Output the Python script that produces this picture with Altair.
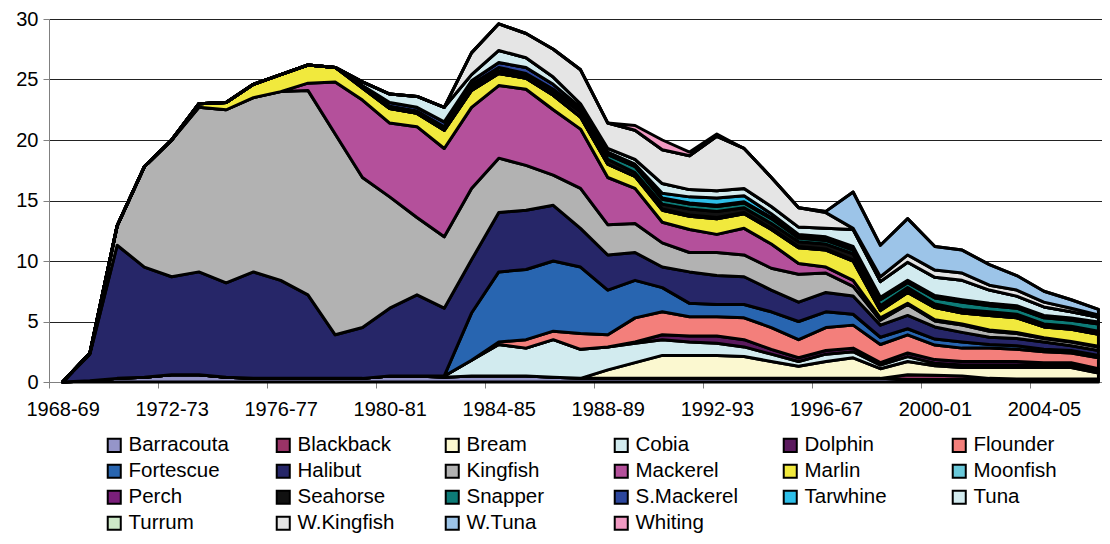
import altair as alt
import pandas as pd
import json

years = [1968, 1969, 1970, 1971, 1972, 1973, 1974, 1975, 1976, 1977,
         1978, 1979, 1980, 1981, 1982, 1983, 1984, 1985, 1986, 1987,
         1988, 1989, 1990, 1991, 1992, 1993, 1994, 1995, 1996, 1997,
         1998, 1999, 2000, 2001, 2002, 2003, 2004, 2005, 2006]

tick_years = [1968, 1972, 1976, 1980, 1984, 1988, 1992, 1996, 2000, 2004]
tick_labels = ["1968-69", "1972-73", "1976-77", "1980-81", "1984-85",
               "1988-89", "1992-93", "1996-67", "2000-01", "2004-05"]

species = ["Barracouta", "Blackback", "Bream", "Cobia", "Dolphin", "Flounder",
           "Fortescue", "Halibut", "Kingfish", "Mackerel", "Marlin", "Moonfish",
           "Perch", "Seahorse", "Snapper", "S.Mackerel", "Tarwhine", "Tuna",
           "Turrum", "W.Kingfish", "W.Tuna", "Whiting"]

colors = ["#9595c9", "#993366", "#fbf8d0", "#d2ebef", "#5b1a5e", "#f37f7b",
          "#2865b0", "#262668", "#b2b2b2", "#b4509b", "#f1e93d", "#6ac9da",
          "#7b1f7b", "#111111", "#0d7b77", "#2d479e", "#2ebfe9", "#d2ebef",
          "#cde9c8", "#e5e5e5", "#9cc4e8", "#f19ac3"]

barracouta = [0, 0.1, 0.3, 0.4, 0.6, 0.6, 0.4, 0.3, 0.3, 0.3, 0.3, 0.3, 0.5, 0.5, 0.4, 0.5, 0.5, 0.5, 0.4, 0.3,
              0.3, 0.3, 0.3, 0.3, 0.3, 0.3, 0.3, 0.3, 0.3, 0.3, 0.3, 0.2, 0.2, 0.2, 0.2, 0.2, 0.2, 0.2, 0.2]
blackback = [0, 0, 0, 0, 0, 0, 0, 0, 0, 0, 0, 0, 0, 0, 0, 0, 0, 0, 0, 0,
             0, 0, 0, 0, 0, 0, 0, 0, 0, 0, 0, 0.4, 0.35, 0.3, 0.1, 0.05, 0.05, 0.05, 0.05]
bream = [0, 0, 0, 0, 0, 0, 0, 0, 0, 0, 0, 0, 0, 0, 0, 0, 0, 0, 0, 0,
         0.7, 1.3, 1.9, 1.9, 1.9, 1.8, 1.4, 1.0, 1.4, 1.7, 0.8, 1.1, 0.8, 0.7, 0.9, 0.95, 0.95, 0.95, 0.5]
cobia = [0, 0, 0, 0, 0, 0, 0, 0, 0, 0, 0, 0, 0, 0, 0.1, 1.3, 2.6, 2.3, 3.1, 2.4,
         1.9, 1.6, 1.3, 1.1, 1.0, 0.8, 0.6, 0.4, 0.6, 0.5, 0.3, 0.4, 0.2, 0.2, 0.2, 0.2, 0.2, 0.2, 0.15]
dolphin = [0, 0, 0, 0, 0, 0, 0, 0, 0, 0, 0, 0, 0, 0, 0, 0, 0, 0, 0, 0,
           0, 0.1, 0.4, 0.5, 0.6, 0.6, 0.4, 0.3, 0.3, 0.3, 0.2, 0.3, 0.3, 0.3, 0.3, 0.3, 0.2, 0.2, 0.2]
flounder = [0, 0, 0, 0, 0, 0, 0, 0, 0, 0, 0, 0, 0, 0, 0, 0, 0.2, 0.7, 0.7, 1.3,
            1.0, 2.0, 1.9, 1.6, 1.6, 1.8, 1.8, 1.5, 1.9, 1.9, 1.5, 1.5, 1.2, 1.1, 1.1, 1.0, 0.9, 0.8, 0.9]
fortescue = [0, 0, 0, 0, 0, 0, 0, 0, 0, 0, 0, 0, 0, 0, 0, 3.9, 5.8, 5.8, 5.8, 5.5,
             3.7, 3.1, 2.0, 1.1, 1.0, 1.1, 1.3, 1.5, 1.3, 0.9, 0.6, 0.5, 0.5, 0.5, 0.3, 0.3, 0.2, 0.2, 0.2]
halibut = [0, 2.2, 11.0, 9.1, 8.1, 8.5, 7.8, 8.8, 8.1, 6.9, 3.6, 4.2, 5.6, 6.7, 5.6, 4.4, 4.9, 4.9, 4.6, 3.2,
           2.9, 2.3, 1.7, 2.6, 2.4, 2.3, 1.8, 1.6, 1.6, 1.5, 1.0, 1.1, 1.0, 0.8, 0.6, 0.6, 0.6, 0.4, 0.4]
kingfish = [0, 0.1, 1.6, 8.3, 11.3, 13.6, 14.3, 14.4, 15.6, 16.9, 16.6, 12.4, 9.2, 6.4, 5.9, 5.9, 4.5, 3.7, 2.5, 3.3,
            2.5, 2.4, 2.0, 1.6, 1.9, 1.8, 1.8, 2.3, 1.6, 0.8, 0.4, 0.9, 0.5, 0.6, 0.5, 0.4, 0.3, 0.3, 0.3]
mackerel = [0, 0, 0, 0, 0, 0, 0, 0, 0, 0.6, 4.3, 6.4, 6.1, 7.5, 7.3, 6.7, 6.0, 6.3, 5.4, 4.9,
            3.9, 2.9, 1.7, 1.9, 1.5, 2.2, 2.0, 0.9, 0.5, 0.5, 0.2, 0.1, 0.1, 0.1, 0.1, 0.1, 0.05, 0.05, 0.05]
marlin = [0, 0, 0, 0, 0, 0.3, 0.6, 1.1, 1.4, 1.5, 1.2, 1.0, 1.2, 1.1, 1.5, 1.4, 1.0, 0.9, 1.2, 1.0,
          1.1, 1.0, 1.0, 1.1, 1.3, 1.2, 1.2, 1.3, 1.4, 1.6, 0.6, 0.9, 1.0, 0.9, 1.2, 1.2, 0.9, 1.0, 1.0]
moonfish = [0, 0, 0, 0, 0, 0, 0, 0, 0, 0, 0, 0, 0, 0, 0, 0, 0, 0, 0, 0,
            0, 0, 0, 0, 0, 0, 0, 0, 0, 0, 0, 0, 0, 0, 0, 0, 0, 0, 0]
perch = [0, 0, 0, 0, 0, 0, 0, 0, 0, 0, 0, 0, 0, 0, 0, 0, 0, 0, 0, 0,
         0, 0, 0.1, 0.1, 0.1, 0.1, 0.1, 0.1, 0.1, 0.1, 0.1, 0.1, 0.1, 0.1, 0.1, 0.1, 0.05, 0.05, 0.05]
seahorse = [0, 0, 0, 0, 0, 0, 0, 0, 0, 0, 0, 0.1, 0.2, 0.2, 0.3, 0.3, 0.25, 0.2, 0.3, 0.4,
            0.4, 0.3, 0.4, 0.5, 0.5, 0.4, 0.4, 0.4, 0.4, 0.5, 0.3, 0.3, 0.2, 0.2, 0.2, 0.2, 0.2, 0.2, 0.2]
snapper = [0, 0, 0, 0, 0, 0, 0, 0, 0, 0, 0, 0, 0, 0, 0, 0.2, 0.25, 0.2, 0.2, 0.2,
           0.4, 0.5, 0.4, 0.4, 0.4, 0.4, 0.4, 0.3, 0.3, 0.3, 0.5, 0.4, 0.5, 0.6, 0.5, 0.5, 0.5, 0.5, 0.6]
smackerel = [0, 0, 0, 0, 0, 0, 0, 0, 0, 0, 0, 0.1, 0.3, 0.3, 0.4, 0.3, 0.4, 0.5, 0.4, 0.2,
             0.1, 0.1, 0.1, 0.1, 0.1, 0.1, 0.1, 0.1, 0.1, 0.1, 0.1, 0.1, 0.1, 0.1, 0.1, 0.1, 0.1, 0.1, 0.1]
tarwhine = [0, 0, 0, 0, 0, 0, 0, 0, 0, 0, 0, 0, 0, 0, 0, 0, 0, 0, 0, 0,
            0.1, 0.1, 0.4, 0.5, 0.6, 0.5, 0.3, 0.2, 0.2, 0.2, 0.1, 0.1, 0.1, 0.1, 0.1, 0.1, 0.1, 0.1, 0.05]
tuna = [0, 0, 0, 0, 0, 0, 0, 0, 0, 0, 0, 0.3, 0.7, 0.9, 1.2, 0.5, 1.0, 0.8, 0.6, 0.3,
        0.3, 0.4, 0.8, 0.6, 0.6, 0.6, 0.6, 0.6, 0.7, 1.4, 1.3, 1.5, 1.5, 1.6, 1.1, 0.8, 0.7, 0.5, 0.4]
turrum = [0, 0, 0, 0, 0, 0, 0, 0, 0, 0, 0, 0, 0, 0, 0, 0, 0, 0, 0, 0,
          0, 0, 0, 0, 0, 0, 0, 0, 0, 0, 0, 0, 0, 0, 0, 0, 0, 0, 0]
wkingfish = [0, 0, 0, 0, 0, 0, 0, 0, 0, 0, 0, 0, 0, 0, 0, 1.8, 2.2, 2.0, 2.3, 2.8,
             2.1, 2.4, 2.8, 2.8, 4.5, 3.3, 2.4, 1.6, 1.3, 0.1, 0.4, 0.6, 0.6, 0.6, 0.4, 0.5, 0.4, 0.3, 0.2]
wtuna = [0, 0, 0, 0, 0, 0, 0, 0, 0, 0, 0, 0, 0, 0, 0, 0, 0, 0, 0, 0,
         0, 0, 0, 0, 0, 0, 0, 0, 0.1, 3.0, 2.6, 3.0, 1.95, 1.9, 1.7, 1.2, 0.9, 0.7, 0.45]
whiting = [0, 0, 0, 0, 0, 0, 0, 0, 0, 0, 0, 0, 0, 0, 0, 0, 0, 0, 0, 0,
           0, 0.4, 0.8, 0.3, 0.2, 0, 0, 0, 0, 0, 0, 0, 0, 0, 0, 0, 0, 0, 0]

series = [barracouta, blackback, bream, cobia, dolphin, flounder, fortescue,
          halibut, kingfish, mackerel, marlin, moonfish, perch, seahorse,
          snapper, smackerel, tarwhine, tuna, turrum, wkingfish, wtuna, whiting]

rows = []
for i, (name, vals) in enumerate(zip(species, series)):
    for yr, v in zip(years, vals):
        rows.append({"Species": name, "Year": yr, "Catch": v, "idx": i})
df = pd.DataFrame(rows)

FONT = "Liberation Sans"
W, H = 1053, 363
step = W / 38.63
x_max = 1967.5 + W / step

label_expr = "[" + ",".join(json.dumps(l) for l in tick_labels) + "][round((datum.value-1968)/4)]"

chart = alt.Chart(df).mark_area(
    stroke="black", strokeWidth=3, strokeJoin="round"
).encode(
    x=alt.X("Year:Q",
            scale=alt.Scale(domain=[1967.5, x_max], nice=False, zero=False),
            axis=alt.Axis(values=tick_years, labelExpr=label_expr, title=None,
                          grid=False, tickOffset=-step / 2, labelOffset=step / 2,
                          tickSize=6, tickColor="#808080", domainColor="#808080",
                          labelFont=FONT, labelFontSize=20, labelColor="black",
                          labelPadding=11, labelFlush=False, labelOverlap=False)),
    y=alt.Y("Catch:Q", stack="zero",
            scale=alt.Scale(domain=[0, 30], nice=False),
            axis=alt.Axis(values=[0, 5, 10, 15, 20, 25, 30], title=None,
                          grid=True, gridColor="#222222", gridWidth=1,
                          tickSize=6, tickColor="#808080", domainColor="#808080",
                          labelFont=FONT, labelFontSize=20, labelColor="black",
                          labelPadding=5)),
    color=alt.Color("Species:N",
                    scale=alt.Scale(domain=species, range=colors),
                    legend=alt.Legend(title=None, orient="none", legendX=55, legendY=416,
                                      columns=6, direction="horizontal", gridAlign="all",
                                      columnPadding=40, rowPadding=4,
                                      symbolType="square", symbolSize=170,
                                      symbolStrokeColor="black", symbolStrokeWidth=2,
                                      symbolOpacity=1,
                                      labelFont=FONT, labelFontSize=20.5,
                                      labelColor="black", labelOffset=4)),
    order=alt.Order("idx:Q", sort="ascending"),
).properties(
    width=W, height=H,
    autosize=alt.AutoSizeParams(type="none"),
    padding={"left": 41, "top": 11, "right": 0, "bottom": 154},
).configure_view(strokeWidth=0)

chart.save("out.html", embed_options={"renderer": "svg", "actions": False})
